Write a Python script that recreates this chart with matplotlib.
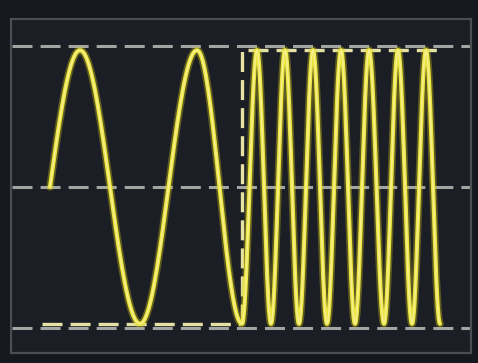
import matplotlib
matplotlib.use("Agg")
import matplotlib.pyplot as plt
import numpy as np

# Signal: extrema (time, level) of the trace
# slow part, then the fast part after the switch marker
slow_times = [20, 80, 140, 197, 242]
slow_levels = [-0.97, 0.97, -0.97, 0.97, -0.97]
fast_peaks = [257, 285, 313, 341, 369, 398, 426]
fast_troughs = [242, 271, 299, 327, 355, 384, 412, 440]
amplitude = 0.97
trace_start = 50
switch_time = 242

# graticule
grid_levels = [-1.0, 0.0, 1.0]
grid_span = (12, 470)
low_marker_span = (42, 240)
high_marker_span = (248, 438)


def cosine_trace(times, levels, n=40):
    """Join the extrema with half-cosine pieces."""
    ts, vs = [], []
    for i in range(len(times) - 1):
        s = np.linspace(0, 1, n, endpoint=False)
        ts.append(times[i] + (times[i + 1] - times[i]) * s)
        vs.append(levels[i] + (levels[i + 1] - levels[i]) * (1 - np.cos(np.pi * s)) / 2)
    ts.append([times[-1]])
    vs.append([levels[-1]])
    return np.concatenate(ts), np.concatenate(vs)


fast_times = sorted(fast_peaks + fast_troughs)
fast_levels = [amplitude if t in fast_peaks else -amplitude for t in fast_times]

t_slow, v_slow = cosine_trace(slow_times, slow_levels)
keep = t_slow >= trace_start
t_fast, v_fast = cosine_trace(fast_times, fast_levels)
t = np.concatenate([t_slow[keep], t_fast[1:]])
v = np.concatenate([v_slow[keep], v_fast[1:]])

plt.rcParams["lines.scale_dashes"] = False
W, H = 478, 363
fig = plt.figure(figsize=(W / 100, H / 100), dpi=100, facecolor="#15181c")
ax = fig.add_axes([11 / W, 10 / H, 460 / W, 334 / H])
ax.set_facecolor("#1b1e24")
ax.set_xlim(11, 471)
ax.set_ylim(-1.177, 1.191)
ax.set_xticks([])
ax.set_yticks([])
for sp in ax.spines.values():
    sp.set_color("#4a4d52")
    sp.set_linewidth(1.6)

dash = (14.4, 5.8)
for lvl in grid_levels:
    ax.hlines(lvl, *grid_span, colors="#a3a5a3", linewidth=2.2,
              linestyles=[(0, dash)], zorder=1)

# markers at the signal extremes and the switch point
ax.hlines(-amplitude, *low_marker_span, colors="#e6e2a4", linewidth=2.4,
          linestyles=[(0, dash)], zorder=2)
ax.hlines(amplitude, *high_marker_span, colors="#e6e2a4", linewidth=2.4,
          linestyles=[(0, dash)], zorder=2)
ax.vlines(switch_time, -amplitude, amplitude, colors="#e6e2a4", linewidth=2.4,
          linestyles=[(0, dash)], zorder=2)

# trace with a bit of glow
ax.plot(t, v, color="#d8cc1c", linewidth=5.5, alpha=0.35, solid_capstyle="round", zorder=3)
ax.plot(t, v, color="#ece43c", linewidth=3.0, solid_capstyle="round", zorder=4)
ax.plot(t, v, color="#f4ef8a", linewidth=1.2, solid_capstyle="round", zorder=5)

fig.savefig("out.png", dpi=100, facecolor=fig.get_facecolor())
